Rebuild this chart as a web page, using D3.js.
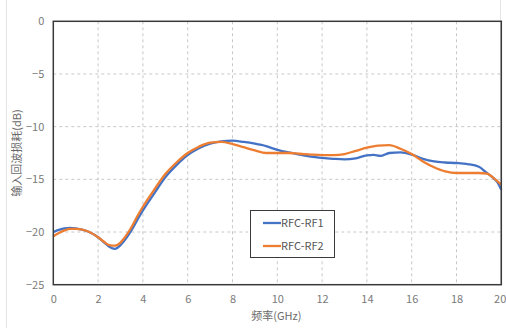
<!DOCTYPE html>
<html>
<head>
<meta charset="utf-8">
<script src="https://cdn.jsdelivr.net/npm/d3@7"></script>
<style>
  html, body { margin: 0; padding: 0; background: #fff; }
  svg { display: block; }
  text { font-family: "Noto Sans CJK SC", "Noto Sans", sans-serif; }
</style>
</head>
<body>
<svg id="chart" width="506" height="328"></svg>
<script>
// Return loss of the two RF paths across frequency (GHz → dB)
const freqRF1 = [0, 0.25, 0.5, 0.75, 1.0, 1.5, 2.0, 2.25, 2.5, 2.75, 3.0, 3.25, 3.5, 3.75, 4.0, 4.5, 5.0, 5.5, 6.0, 6.5, 7.0, 7.5, 8.0, 8.5, 9.0, 9.5, 10.0, 10.5, 11.0, 11.5, 12.0, 12.5, 13.0, 13.5, 14.0, 14.3, 14.6, 15.0, 15.5, 16.0, 16.5, 17.0, 17.5, 18.0, 18.5, 19.0, 19.3, 19.6, 19.8, 20.0];
const lossRF1 = [-20.0, -19.8, -19.65, -19.6, -19.65, -19.9, -20.5, -20.95, -21.4, -21.6, -21.25, -20.6, -19.8, -18.85, -17.95, -16.35, -14.8, -13.65, -12.7, -12.05, -11.62, -11.4, -11.33, -11.45, -11.62, -11.85, -12.2, -12.45, -12.65, -12.85, -12.97, -13.05, -13.1, -13.0, -12.72, -12.68, -12.78, -12.5, -12.45, -12.65, -13.05, -13.3, -13.4, -13.45, -13.55, -13.8, -14.3, -14.8, -15.2, -16.0];

const freqRF2 = [0, 0.25, 0.5, 0.75, 1.0, 1.5, 2.0, 2.25, 2.5, 2.75, 3.0, 3.25, 3.5, 3.75, 4.0, 4.5, 5.0, 5.5, 6.0, 6.5, 7.0, 7.5, 8.0, 8.5, 9.0, 9.5, 10.0, 10.5, 11.0, 11.5, 12.0, 12.5, 13.0, 13.5, 14.0, 14.5, 15.0, 15.5, 16.0, 16.5, 17.0, 17.5, 18.0, 18.5, 19.0, 19.35, 19.7, 20.0];
const lossRF2 = [-20.4, -20.1, -19.85, -19.7, -19.7, -19.9, -20.5, -20.9, -21.25, -21.3, -21.0, -20.35, -19.5, -18.5, -17.6, -16.0, -14.5, -13.4, -12.5, -11.9, -11.52, -11.45, -11.65, -11.95, -12.25, -12.5, -12.5, -12.5, -12.57, -12.65, -12.7, -12.7, -12.6, -12.3, -12.0, -11.8, -11.75, -12.1, -12.6, -13.3, -13.85, -14.25, -14.4, -14.4, -14.4, -14.45, -14.95, -15.5];

const seriesNames = ["RFC-RF1", "RFC-RF2"];
const seriesColors = ["#4472C4", "#ED7D31"];
const xTicks = [0, 2, 4, 6, 8, 10, 12, 14, 16, 18, 20];
const yTicks = [0, -5, -10, -15, -20, -25];
const xTitle = "频率(GHz)";
const yTitle = "输入回波损耗(dB)";

const svg = d3.select("#chart");
const plot = { left: 53.3, right: 501.3, top: 21.3, bottom: 284.7 };

const x = d3.scaleLinear().domain([0, 20]).range([plot.left, plot.right]);
const y = d3.scaleLinear().domain([-25, 0]).range([plot.bottom, plot.top]);

// faint outer container edges
svg.append("line").attr("x1", 6.5).attr("x2", 6.5).attr("y1", 0).attr("y2", 328)
  .attr("stroke", "#e4e4e4").attr("stroke-width", 1);
svg.append("line").attr("x1", 500.5).attr("x2", 500.5).attr("y1", 0).attr("y2", plot.bottom)
  .attr("stroke", "#e4e4e4").attr("stroke-width", 1);

// dashed grid
const grid = svg.append("g");
grid.selectAll("line.v").data(xTicks.slice(1, -1)).join("line")
  .attr("x1", d => x(d)).attr("x2", d => x(d))
  .attr("y1", plot.top).attr("y2", plot.bottom)
  .attr("stroke", "#c8c8c8").attr("stroke-width", 1).attr("stroke-dasharray", "3,3");
grid.selectAll("line.h").data(yTicks.slice(1, -1)).join("line")
  .attr("x1", plot.left).attr("x2", plot.right)
  .attr("y1", d => y(d)).attr("y2", d => y(d))
  .attr("stroke", "#c8c8c8").attr("stroke-width", 1).attr("stroke-dasharray", "3,3");

// axes (labels only; the frame is drawn separately)
const xAxis = svg.append("g").attr("transform", `translate(0,${plot.bottom})`)
  .call(d3.axisBottom(x).tickValues(xTicks).tickSize(0).tickPadding(11).tickFormat(d3.format("d")));
const yAxis = svg.append("g").attr("transform", `translate(${plot.left},0)`)
  .call(d3.axisLeft(y).tickValues(yTicks).tickSize(0).tickPadding(9)
    .tickFormat(d => d < 0 ? "\u2212" + Math.abs(d) : String(d)));
[xAxis, yAxis].forEach(a => {
  a.select(".domain").remove();
  a.selectAll("text").attr("fill", "#7a7a7a").attr("font-size", 11);
});
// keep the last frequency label inside the page edge
xAxis.selectAll(".tick").filter(d => d === 20).select("text")
  .attr("text-anchor", "end").attr("x", 4.5);

// curves
const line = d3.line().x(d => x(d[0])).y(d => y(d[1])).curve(d3.curveMonotoneX);
const series = [
  d3.zip(freqRF1, lossRF1),
  d3.zip(freqRF2, lossRF2)
];
svg.append("g").selectAll("path").data(series).join("path")
  .attr("d", line)
  .attr("fill", "none")
  .attr("stroke", (d, i) => seriesColors[i])
  .attr("stroke-width", 2.3)
  .attr("stroke-linejoin", "round");

// plot frame
svg.append("rect")
  .attr("x", plot.left).attr("y", plot.top)
  .attr("width", plot.right - plot.left).attr("height", plot.bottom - plot.top)
  .attr("fill", "none").attr("stroke", "#3a3a3a").attr("stroke-width", 1.5);

// axis titles
svg.append("text").attr("x", (plot.left + plot.right) / 2 - 1).attr("y", 320)
  .attr("text-anchor", "middle").attr("font-size", 11).attr("fill", "#6a6a6a")
  .text(xTitle);
svg.append("text")
  .attr("transform", `translate(21,${(plot.top + plot.bottom) / 2}) rotate(-90)`)
  .attr("text-anchor", "middle").attr("font-size", 11).attr("fill", "#6a6a6a")
  .text(yTitle);

// legend
const legend = svg.append("g");
legend.append("rect").attr("x", 250.5).attr("y", 210.5).attr("width", 84).attr("height", 47)
  .attr("fill", "#fff").attr("stroke", "#3a3a3a").attr("stroke-width", 1);
const item = legend.selectAll("g.item").data(seriesNames).join("g")
  .attr("transform", (d, i) => `translate(0,${223 + i * 23})`);
item.append("line").attr("x1", 263).attr("x2", 281).attr("y1", 0).attr("y2", 0)
  .attr("stroke", (d, i) => seriesColors[i]).attr("stroke-width", 2.3);
item.append("text").attr("x", 281).attr("y", 0).attr("dy", "0.35em")
  .attr("font-size", 11).attr("fill", "#555").text(d => d);
</script>
</body>
</html>
